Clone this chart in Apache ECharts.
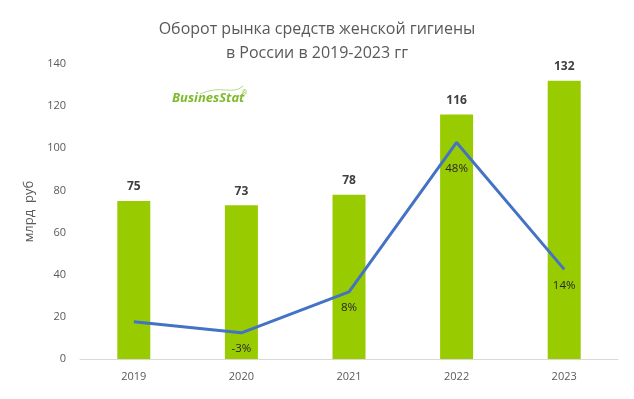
<!DOCTYPE html>
<html>
<head>
<meta charset="utf-8">
<script src="https://cdn.jsdelivr.net/npm/echarts@6/dist/echarts.min.js"></script>
<style>
  html, body { margin: 0; padding: 0; background: #fff; }
  #chart { width: 634px; height: 399px; }
</style>
</head>
<body>
<div id="chart"></div>
<script>
// data
const years = ['2019', '2020', '2021', '2022', '2023']
const turnover = [75, 73, 78, 116, 132]       // млрд руб
const growth = [0, -3, 8, 48, 14]             // % к прошлому году, 2019 без подписи
const growthLabels = ['', '-3%', '8%', '48%', '14%']

const chart = echarts.init(document.getElementById('chart'))
const font = '"Open Sans", "Liberation Sans", sans-serif'

// the peak label sits further below the line, like in the original
const growthData = growth.map((v, i) => i === 3
  ? { value: v, label: { distance: 20 } }
  : v)

chart.setOption({
  animation: false,
  textStyle: { fontFamily: font },
  title: {
    text: 'Оборот рынка средств женской гигиены\nв России в 2019-2023 гг',
    left: 'center',
    top: 12,
    textStyle: { fontSize: 16, fontWeight: 'normal', color: '#595959', lineHeight: 24, fontFamily: font }
  },
  grid: { left: 80, right: 16, top: 64, bottom: 40 },
  xAxis: {
    type: 'category',
    data: years,
    axisLine: { lineStyle: { color: '#d9d9d9' } },
    axisTick: { show: false },
    axisLabel: { color: '#595959', fontSize: 11, margin: 12 }
  },
  yAxis: [{
    type: 'value',
    min: 0,
    max: 140,
    interval: 20,
    name: 'млрд  руб',
    nameLocation: 'middle',
    nameGap: 44,
    nameTextStyle: { color: '#595959', fontSize: 13 },
    splitLine: { show: false },
    axisLine: { show: false },
    axisTick: { show: false },
    axisLabel: { color: '#595959', fontSize: 11, margin: 14 }
  }, {
    type: 'value',
    min: -10,
    max: 69,
    show: false,
    splitLine: { show: false }
  }],
  graphic: [{
    type: 'text',
    left: 172,
    top: 92,
    style: {
      text: 'BusinesStat',
      font: 'italic bold 13px "Open Sans", sans-serif',
      fill: '#7dbb2a'
    }
  }, {
    type: 'text',
    left: 242,
    top: 90,
    style: { text: '®', font: '7px sans-serif', fill: '#7dbb2a' }
  }, {
    type: 'bezierCurve',
    shape: { x1: 200, y1: 94, x2: 243, y2: 86, cpx1: 222, cpy1: 84, cpx2: 232, cpy2: 96 },
    style: { stroke: '#b5d98a', lineWidth: 1, fill: null }
  }],
  series: [{
    name: 'Оборот',
    type: 'bar',
    data: turnover,
    barWidth: 33,
    itemStyle: { color: '#99cc00' },
    label: {
      show: true,
      position: 'top',
      distance: 8,
      color: '#404040',
      fontSize: 12,
      fontWeight: 'bold'
    }
  }, {
    name: 'Рост',
    type: 'line',
    yAxisIndex: 1,
    data: growthData,
    symbol: 'circle',
    symbolSize: 0,
    lineStyle: { color: '#4472c4', width: 3 },
    itemStyle: { color: '#4472c4' },
    label: {
      show: true,
      position: 'bottom',
      distance: 10,
      color: '#262626',
      fontSize: 11.5,
      formatter: p => growthLabels[p.dataIndex]
    },
    z: 3
  }]
})
</script>
</body>
</html>
